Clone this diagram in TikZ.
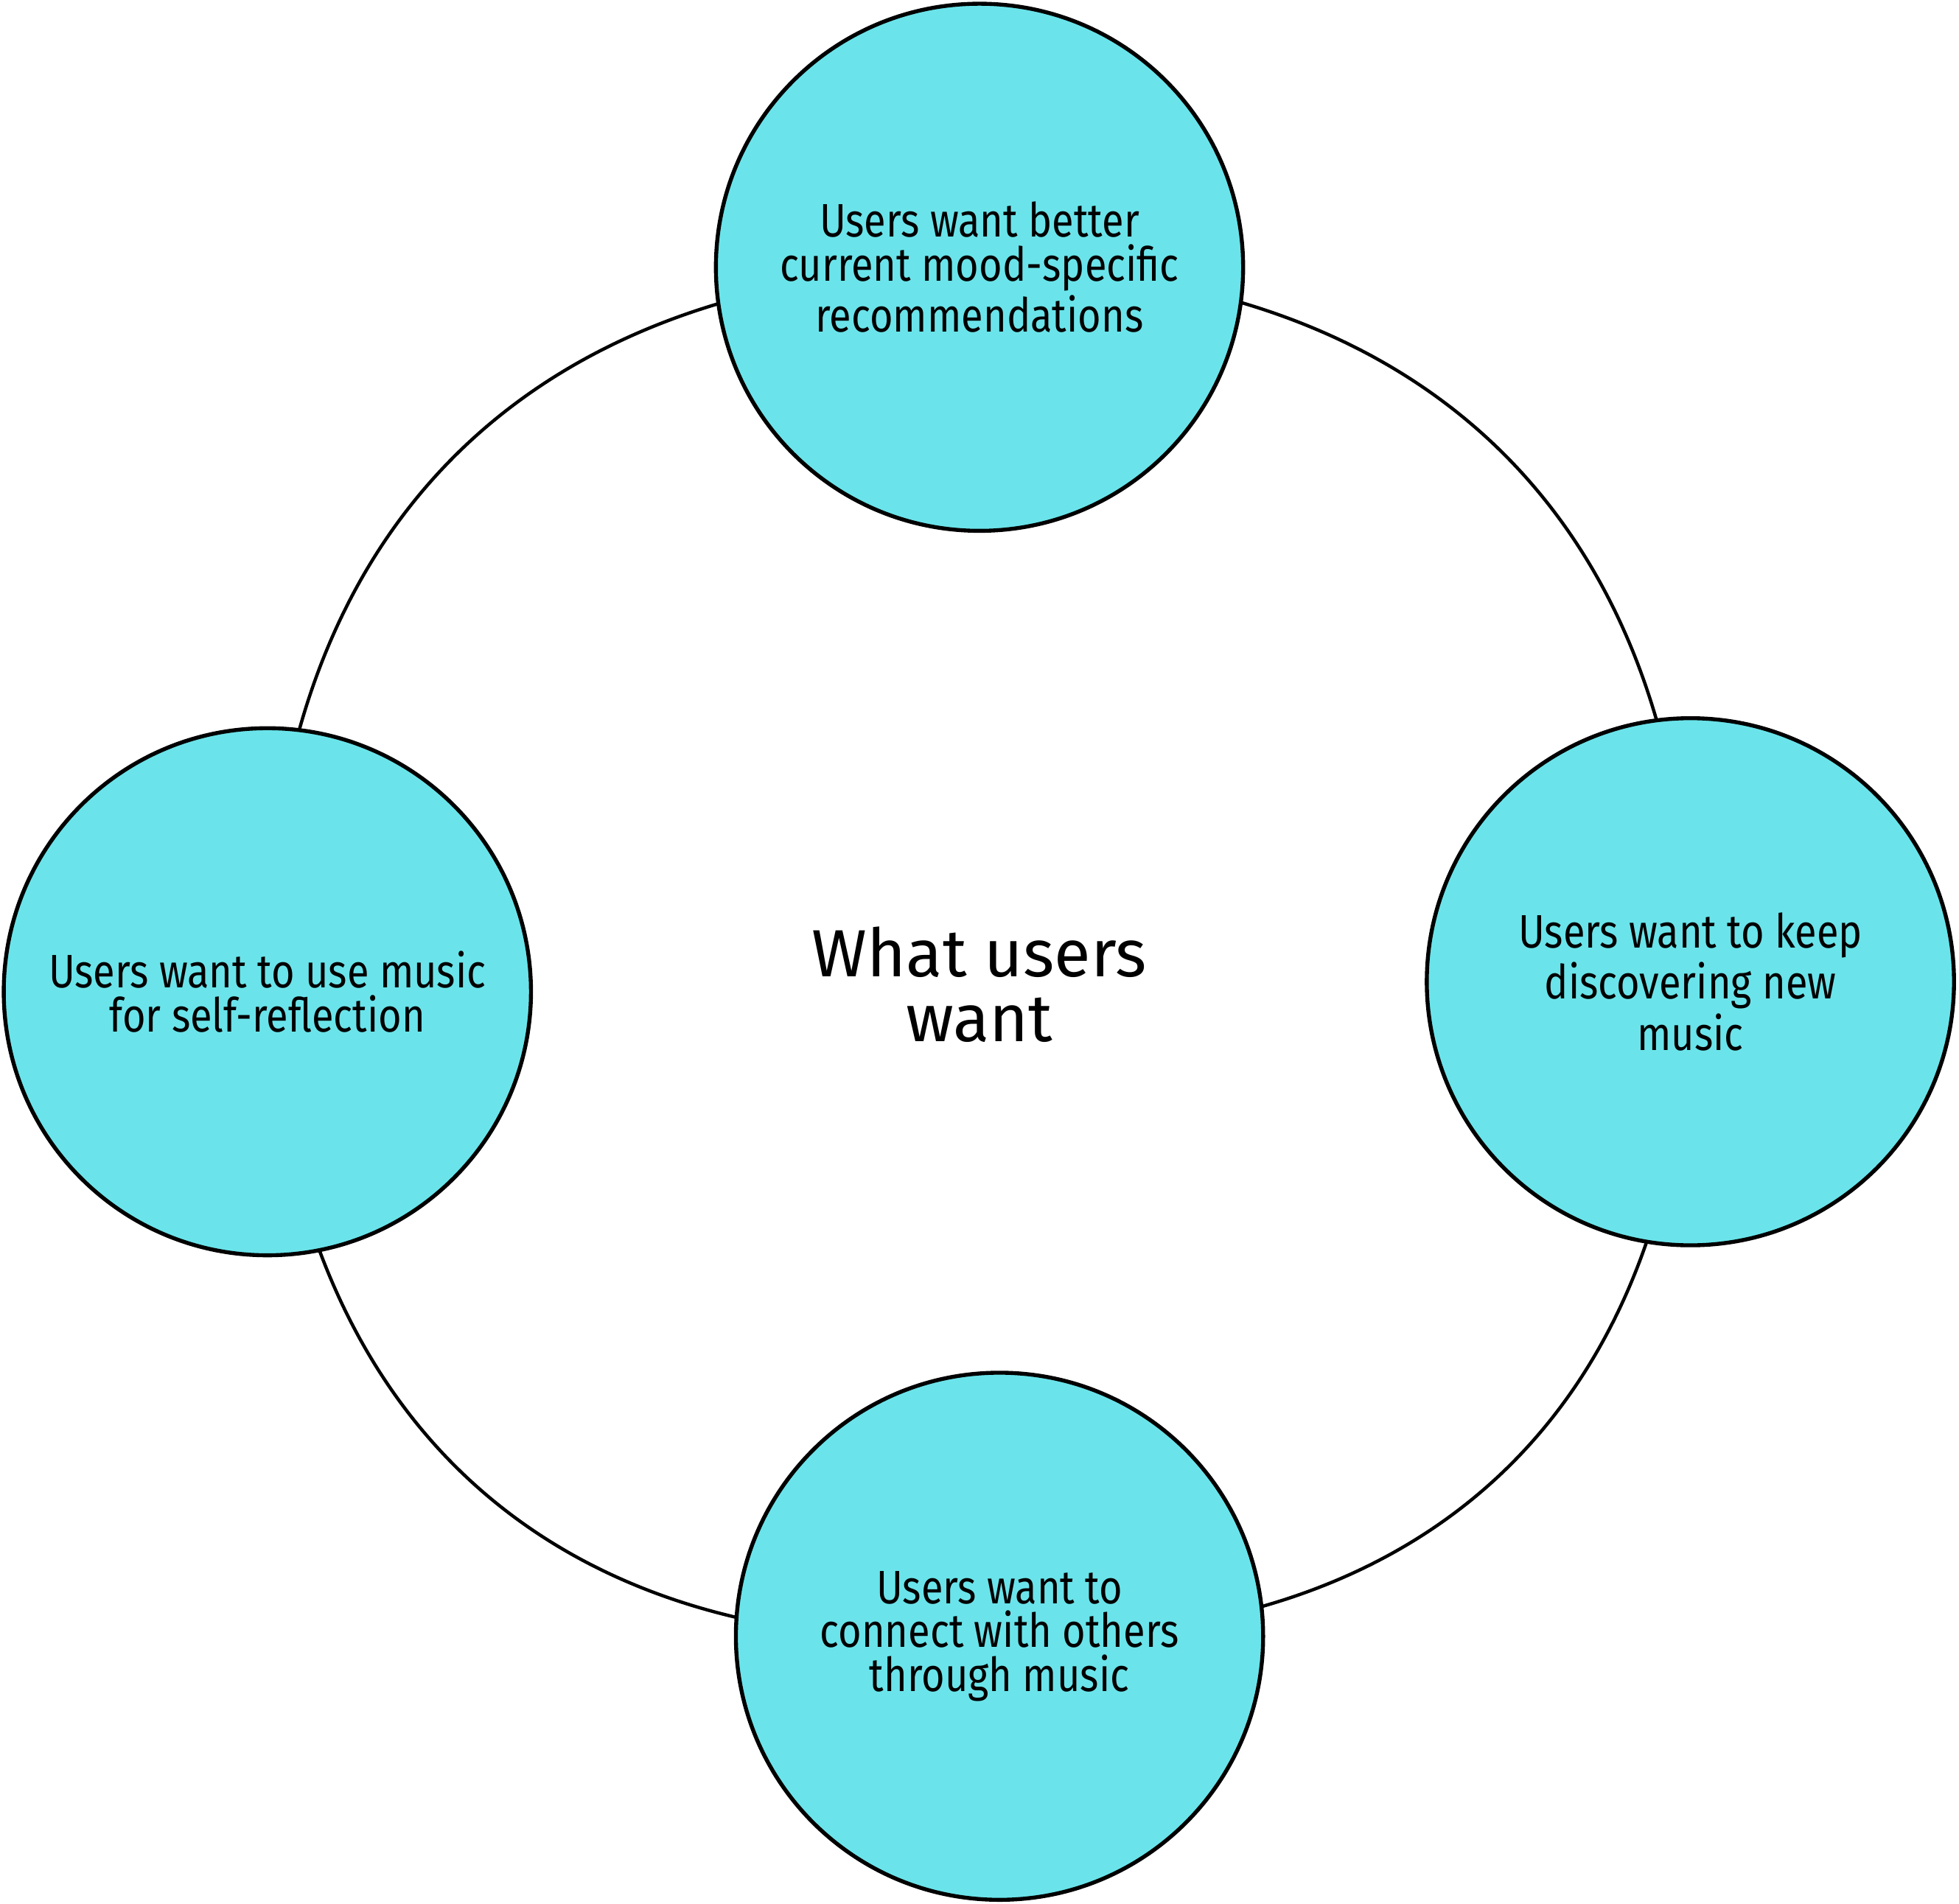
\documentclass[tikz,border=0pt]{standalone}
\usepackage{fontspec}
\setmainfont{Fira Sans}
\newfontfamily\narrowfont[FakeStretch=0.85]{Fira Sans}
\usetikzlibrary{backgrounds}
\definecolor{needcyan}{RGB}{106,228,234}

\begin{document}
\begin{tikzpicture}[
  need/.style={circle, draw, line width=0.9pt, fill=needcyan, minimum size=4.22cm, inner sep=0pt, align=center, font=\narrowfont\fontsize{10.7}{10}\selectfont},
  title/.style={align=center, font=\fontsize{15.2}{14.8}\selectfont},
  link/.style={line width=0.75pt}
]
\useasboundingbox (0,0) rectangle (15.68,15.24);

\node[need] (top) at (7.84, 13.10) {Users want better\\current mood-specific\\recommendations};
\node[need] (left) at (2.14, 7.30) {Users want to use music\\for self-reflection};
\node[need] (right) at (13.53, 7.38) {Users want to keep\\discovering new\\music};
\node[need] (bottom) at (8.00, 2.14) {Users want to\\connect with others\\through music};

\node[title] (centre) at (7.84, 7.36) {What users\\want};

\begin{pgfonlayer}{background}
\draw[link] (top.center) to[bend right=45, looseness=1.15] (left.center);
\draw[link] (left.center) to[bend right=45, looseness=1.15] (bottom.center);
\draw[link] (bottom.center) to[bend right=45, looseness=1.15] (right.center);
\draw[link] (right.center) to[bend right=45, looseness=1.15] (top.center);
\end{pgfonlayer}

\end{tikzpicture}
\end{document}
